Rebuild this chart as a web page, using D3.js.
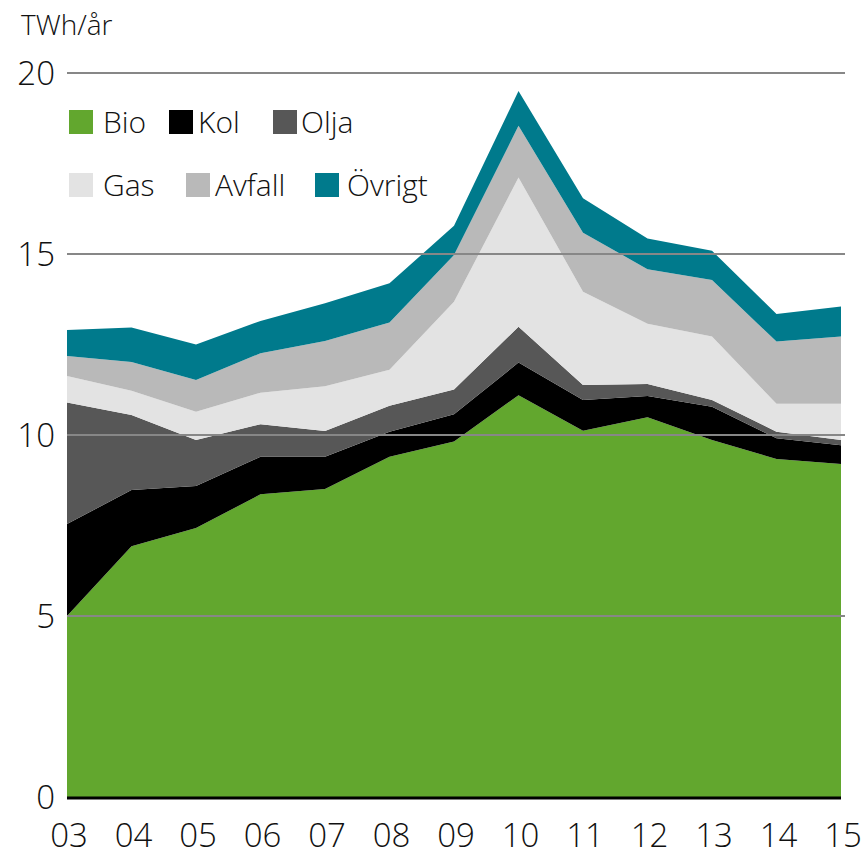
<!DOCTYPE html>
<html>
<head>
<meta charset="utf-8">
<script src="https://cdn.jsdelivr.net/npm/d3@7"></script>
<style>
  html, body { margin: 0; padding: 0; background: #fff; }
  svg text { font-family: "Open Sans", "DejaVu Sans", sans-serif; font-weight: 300; fill: #111; }
</style>
</head>
<body>
<svg id="chart" width="864" height="856"></svg>
<script>
// Years shown on the x axis
const years = ["03", "04", "05", "06", "07", "08", "09", "10", "11", "12", "13", "14", "15"];

// Energy by fuel, TWh per year
const bio    = [5.0, 6.93, 7.43, 8.36, 8.51, 9.4, 9.82, 11.1, 10.12, 10.49, 9.86, 9.34, 9.2];
const kol    = [2.54, 1.55, 1.16, 1.04, 0.89, 0.69, 0.75, 0.9, 0.85, 0.59, 0.92, 0.57, 0.52];
const olja   = [3.36, 2.07, 1.27, 0.9, 0.71, 0.72, 0.69, 0.99, 0.41, 0.33, 0.19, 0.18, 0.14];
const gas    = [0.73, 0.67, 0.78, 0.87, 1.24, 0.99, 2.42, 4.12, 2.58, 1.66, 1.75, 0.77, 1.0];
const avfall = [0.55, 0.8, 0.88, 1.09, 1.25, 1.31, 1.29, 1.43, 1.63, 1.51, 1.56, 1.72, 1.86];
const ovrigt = [0.72, 0.95, 0.98, 0.89, 1.04, 1.08, 0.81, 0.96, 0.95, 0.85, 0.81, 0.76, 0.83];

const seriesNames = ["Bio", "Kol", "Olja", "Gas", "Avfall", "Övrigt"];
const seriesValues = [bio, kol, olja, gas, avfall, ovrigt];
const seriesColors = ["#62a72e", "#000000", "#575757", "#e3e3e3", "#b9b9b9", "#007a8c"];

const yTicks = [0, 5, 10, 15, 20];
const unitLabel = "TWh/år";

const svg = d3.select("#chart");

const x = d3.scalePoint().domain(years).range([67, 841]);
const y = d3.scaleLinear().domain([0, 20]).range([797, 73]);

// Build one row per year for the stack layout
const rows = years.map((yr, i) => {
  const r = { year: yr };
  seriesNames.forEach((n, k) => { r[n] = seriesValues[k][i]; });
  return r;
});

const stacked = d3.stack().keys(seriesNames)(rows);

const area = d3.area()
  .x(d => x(d.data.year))
  .y0(d => y(d[0]))
  .y1(d => y(d[1]));

svg.append("g")
  .selectAll("path")
  .data(stacked)
  .join("path")
  .attr("d", area)
  .attr("fill", (d, i) => seriesColors[i]);

// Horizontal gridlines sit on top of the areas
svg.append("g")
  .selectAll("line")
  .data(yTicks.filter(t => t > 0))
  .join("line")
  .attr("x1", 67).attr("x2", 845)
  .attr("y1", d => y(d)).attr("y2", d => y(d))
  .attr("stroke", "#878787")
  .attr("stroke-width", 2);

// Baseline
svg.append("line")
  .attr("x1", 67).attr("x2", 841)
  .attr("y1", y(0) + 1).attr("y2", y(0) + 1)
  .attr("stroke", "#000")
  .attr("stroke-width", 3);

// Y axis labels
svg.append("g")
  .selectAll("text")
  .data(yTicks)
  .join("text")
  .attr("x", 55)
  .attr("y", d => y(d))
  .attr("dy", "0.36em")
  .attr("text-anchor", "end")
  .attr("font-size", 33)
  .text(d => d);

// X axis labels
svg.append("g")
  .selectAll("text")
  .data(years)
  .join("text")
  .attr("x", d => x(d) + 2)
  .attr("y", 847)
  .attr("text-anchor", "middle")
  .attr("font-size", 33)
  .text(d => d);

// Unit label
svg.append("text")
  .attr("x", 21)
  .attr("y", 35)
  .attr("font-size", 28)
  .text(unitLabel);

// Legend, two rows of three
const legendPos = [
  { sx: 69,  tx: 103, row: 0 },
  { sx: 169, tx: 198, row: 0 },
  { sx: 273, tx: 301, row: 0 },
  { sx: 69,  tx: 103, row: 1 },
  { sx: 186, tx: 215, row: 1 },
  { sx: 315, tx: 347, row: 1 }
];
const rowTop = [110, 173];

const legend = svg.append("g");
seriesNames.forEach((n, i) => {
  const p = legendPos[i];
  legend.append("rect")
    .attr("x", p.sx).attr("y", rowTop[p.row])
    .attr("width", 24).attr("height", 24)
    .attr("fill", seriesColors[i]);
  legend.append("text")
    .attr("x", p.tx)
    .attr("y", rowTop[p.row] + 23)
    .attr("font-size", 30)
    .text(n);
});
</script>
</body>
</html>
